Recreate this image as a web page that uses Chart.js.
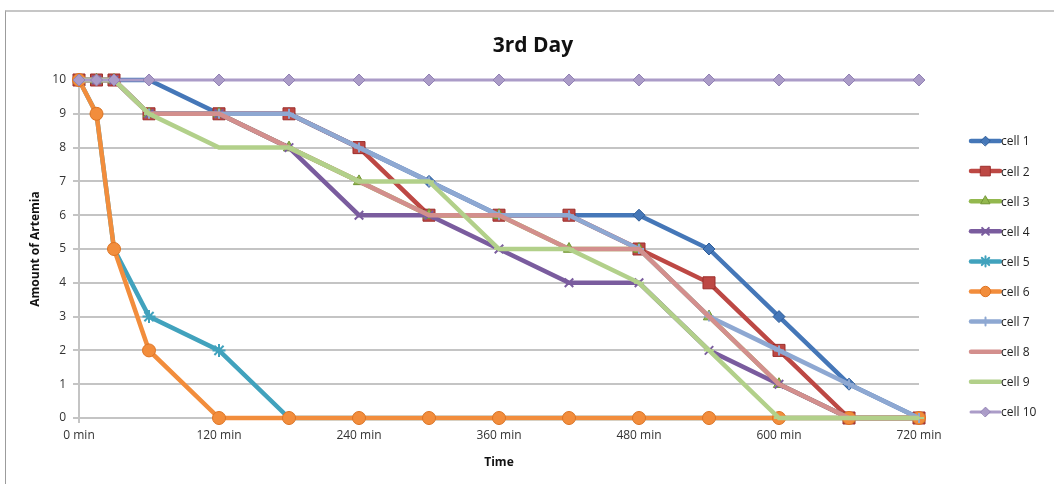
<!DOCTYPE html>
<html>
<head>
<meta charset="utf-8">
<title>3rd Day</title>
<script src="https://cdn.jsdelivr.net/npm/chart.js@4.4.1/dist/chart.umd.min.js"></script>
<style>
  html, body { margin: 0; padding: 0; background: #fff; }
  body { width: 1054px; height: 484px; overflow: hidden; position: relative; }
  .frame { position: absolute; left: 5px; top: 10px; width: 1100px; height: 520px;
           border-top: 2px solid #c6c6c6; border-left: 1px solid #9c9c9c; }
  .wrap { position: absolute; left: 0; top: 0; width: 1054px; height: 484px; }
</style>
</head>
<body>
<div class="frame"></div>
<div class="wrap"><canvas id="chart-day3" width="1054" height="484"></canvas></div>
<script>
// sampling times (minutes) and artemia counts per cell
const TIMES   = [0, 15, 30, 60, 120, 180, 240, 300, 360, 420, 480, 540, 600, 660, 720];
const CELL_1  = [10, 10, 10, 10, 9, 9, 8, 7, 6, 6, 6, 5, 3, 1, 0];
const CELL_2  = [10, 10, 10, 9, 9, 9, 8, 6, 6, 6, 5, 4, 2, 0, 0];
const CELL_3  = [10, 10, 10, 9, 9, 8, 7, 6, 6, 5, 5, 3, 1, 0, 0];
const CELL_4  = [10, 10, 10, 9, 9, 8, 6, 6, 5, 4, 4, 2, 1, 0, 0];
const CELL_5  = [10, 9, 5, 3, 2, 0, 0, 0, 0, 0, 0, 0, 0, 0, 0];
const CELL_6  = [10, 9, 5, 2, 0, 0, 0, 0, 0, 0, 0, 0, 0, 0, 0];
const CELL_7  = [10, 10, 10, 9, 9, 9, 8, 7, 6, 6, 5, 3, 2, 1, 0];
const CELL_8  = [10, 10, 10, 9, 9, 8, 7, 6, 6, 5, 5, 3, 1, 0, 0];
const CELL_9  = [10, 10, 10, 9, 8, 8, 7, 7, 5, 5, 4, 2, 0, 0, 0];
const CELL_10 = [10, 10, 10, 10, 10, 10, 10, 10, 10, 10, 10, 10, 10, 10, 10];
const X_TICK_STEP = 120;
const Y_TICK_STEP = 1;

const FONT = "'Open Sans', Lato, sans-serif";
const GRID = '#c4c4c4';

const SERIES = [
  { label: 'cell 1',  data: CELL_1,  color: '#4577b8', edge: '#2f5d98', style: 'rectRot',  r: 6 },
  { label: 'cell 2',  data: CELL_2,  color: '#bd4844', edge: '#9c2f2c', style: 'rect',     r: 8.5 },
  { label: 'cell 3',  data: CELL_3,  color: '#93b84e', edge: '#729535', style: 'triangle', r: 6.5 },
  { label: 'cell 4',  data: CELL_4,  color: '#7a5c9e', edge: '#7a5c9e', style: 'crossRot', r: 6 },
  { label: 'cell 5',  data: CELL_5,  color: '#41a2bd', edge: '#41a2bd', style: 'star',     r: 6.5 },
  { label: 'cell 6',  data: CELL_6,  color: '#f28d3c', edge: '#de7423', style: 'circle',   r: 6.5 },
  { label: 'cell 7',  data: CELL_7,  color: '#8ea8d2', edge: '#8ea8d2', style: 'cross',    r: 5 },
  { label: 'cell 8',  data: CELL_8,  color: '#d38f8d', edge: '#d38f8d', style: 'line',     r: 3 },
  { label: 'cell 9',  data: CELL_9,  color: '#b2d08a', edge: '#b2d08a', style: 'line',     r: 5 },
  { label: 'cell 10', data: CELL_10, color: '#ab9cc8', edge: '#9282b4', style: 'rectRot',  r: 6 },
];

// title drawn centered above the plot
const titlePlugin = {
  id: 'dayTitle',
  afterDraw(chart) {
    const ctx = chart.ctx;
    ctx.save();
    ctx.font = `bold 21px ${FONT}`;
    ctx.fillStyle = '#111';
    ctx.textAlign = 'center';
    ctx.textBaseline = 'middle';
    ctx.fillText('3rd Day', 533, 46);
    ctx.restore();
  }
};

// line + marker legend on the right
const sideLegend = {
  id: 'sideLegend',
  afterDraw(chart) {
    const ctx = chart.ctx;
    chart.data.datasets.forEach((ds, i) => {
      const y = 141 + i * 30.1;
      ctx.save();
      ctx.strokeStyle = ds.borderColor;
      ctx.lineWidth = ds.borderWidth;
      ctx.lineCap = 'round';
      ctx.beginPath();
      ctx.moveTo(971, y);
      ctx.lineTo(1000, y);
      ctx.stroke();
      ctx.fillStyle = ds.pointBackgroundColor;
      ctx.strokeStyle = ds.pointBorderColor;
      ctx.lineWidth = ds.pointBorderWidth;
      Chart.helpers.drawPoint(ctx, { pointStyle: ds.pointStyle, radius: ds.pointRadius * 0.8, rotation: 0, borderWidth: ds.pointBorderWidth }, 985.5, y);
      ctx.font = `12px ${FONT}`;
      ctx.fillStyle = '#222';
      ctx.textAlign = 'left';
      ctx.textBaseline = 'middle';
      ctx.fillText(ds.label, 1001, y + 1);
      ctx.restore();
    });
  }
};

const datasets = SERIES.map((s, i) => ({
  label: s.label,
  data: TIMES.map((t, k) => ({ x: t, y: s.data[k] })),
  borderColor: s.color,
  backgroundColor: s.color,
  borderWidth: i === 9 ? 3 : 4.5,
  pointStyle: s.style,
  pointRadius: s.r,
  pointBackgroundColor: s.color,
  pointBorderColor: s.edge,
  pointBorderWidth: ['crossRot', 'star', 'cross', 'line'].includes(s.style) ? 2 : 1,
  tension: 0,
  clip: false,
  order: SERIES.length - i,
}));

new Chart(document.getElementById('chart-day3').getContext('2d'), {
  type: 'line',
  data: { datasets },
  options: {
    responsive: false,
    animation: false,
    layout: { padding: { top: 80, right: 135, bottom: 0, left: 0 } },
    plugins: {
      legend: { display: false },
      title: { display: false },
      tooltip: { enabled: false },
    },
    scales: {
      x: {
        type: 'linear',
        min: 0, max: 720,
        afterFit: s => { s.height = 66; },
        border: { display: true, color: GRID, width: 2 },
        grid: { drawOnChartArea: false, drawTicks: true, tickLength: 5, color: GRID, lineWidth: 2 },
        ticks: {
          stepSize: X_TICK_STEP,
          padding: 5,
          color: '#333',
          font: { family: FONT, size: 12 },
          maxRotation: 0,
          callback: v => v + ' min',
        },
        title: {
          display: true, text: 'Time', color: '#111',
          font: { family: FONT, size: 12, weight: 'bold' },
          padding: { top: 0, bottom: 14 },
        },
      },
      y: {
        min: 0, max: 10,
        afterFit: s => { s.width = 79; },
        border: { display: true, color: GRID, width: 2 },
        grid: { color: GRID, lineWidth: 2, tickLength: 6 },
        ticks: {
          stepSize: Y_TICK_STEP,
          padding: 7,
          color: '#333',
          font: { family: FONT, size: 12 },
        },
        title: {
          display: true, text: 'Amount of Artemia', color: '#111',
          font: { family: FONT, size: 12, weight: 'bold' },
          padding: { top: 28, bottom: 0 },
        },
      },
    },
  },
  plugins: [titlePlugin, sideLegend],
});
</script>
</body>
</html>
